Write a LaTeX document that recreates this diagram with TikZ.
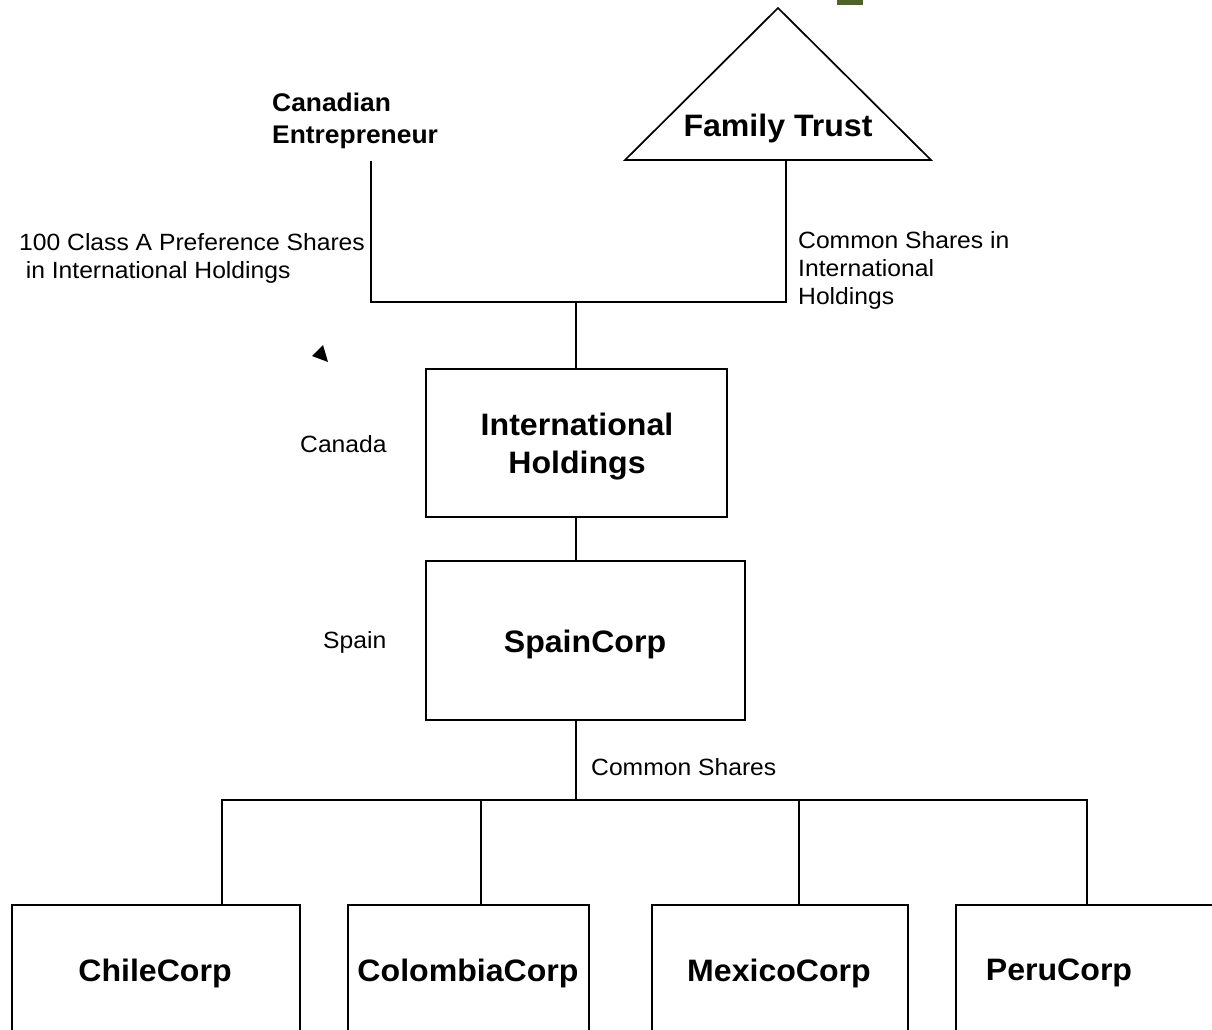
\documentclass[tikz,border=0pt]{standalone}
\usepackage{fontspec}
\setmainfont[FakeStretch=1.035]{Liberation Sans}
\newfontfamily\lblfont[FakeStretch=1.05]{Liberation Sans}
\begin{document}
\begin{tikzpicture}[x=1pt,y=-1pt,
  line/.style={line width=1.7pt, line cap=rect},
  box/.style={draw, line width=1.7pt, inner sep=0pt, font=\fontsize{31}{38}\selectfont\bfseries, align=center},
  lbl/.style={inner sep=0pt, anchor=west, align=left, font=\lblfont\fontsize{23.5}{28}\selectfont},
  ]
\useasboundingbox (0,0) rectangle (1212,1030);
\clip (0,0) rectangle (1212,1030);
\fill[white] (0,0) rectangle (1212,1030);
% green mark
\fill[fill={rgb,255:red,79;green,98;blue,40}] (837,0) rectangle (863,5);
% family trust triangle
\draw[line width=1.7pt, line join=miter] (778,8) -- (931,160) -- (625,160) -- cycle;
\node[inner sep=0pt, font=\fontsize{31}{38}\selectfont\bfseries] (ft) at (778,128) {Family Trust};
% canadian entrepreneur
\node[inner sep=0pt, anchor=west, align=left, font=\fontsize{25.5}{32}\selectfont\bfseries] (ce) at (272,121) {Canadian\\Entrepreneur};
% labels
\node[lbl] (l1) at (19,258) {100 Class A Preference Shares\\\hspace*{0.28em}in International Holdings};
\node[lbl] (l2) at (798,270) {Common Shares in\\International\\Holdings};
\node[lbl] (l3) at (300,444) {Canada};
\node[lbl] (l4) at (323,642) {Spain};
\node[lbl] (l5) at (591,767) {Common Shares};
% small triangle
\fill (312,356) -- (323,345) -- (328,362) -- cycle;
% boxes
\node[box, minimum width=301pt, minimum height=148pt] (ih) at (576.5,443) {};
\node[box, draw=none] (iht) at (577,447) {International\\Holdings};
\node[box, minimum width=319pt, minimum height=159pt] (sc) at (585.5,640.5) {};
\node[box, draw=none] (sct) at (585,644) {SpainCorp};
\node[box, minimum width=288pt, minimum height=150pt] (cl) at (156,980) {};
\node[box, minimum width=241pt, minimum height=150pt] (co) at (468.5,980) {};
\node[box, minimum width=256pt, minimum height=150pt] (mx) at (780,980) {};
\node[box, minimum width=280pt, minimum height=150pt] (pe) at (1096,980) {};
\node[box, draw=none] (clt) at (155,973) {ChileCorp};
\node[box, draw=none] (cot) at (468,973) {ColombiaCorp};
\node[box, draw=none] (mxt) at (779,973) {MexicoCorp};
\node[box, draw=none] (pet) at (1059,973) {PeruCorp};
% top connectors
\coordinate (ceb) at (371,162);
\coordinate (ftb) at (786,161);
\coordinate (jl) at (371,302);
\coordinate (jr) at (786,302);
\coordinate (jm) at (576,302);
\draw[line] (ceb) -- (jl) -- (jr) -- (ftb);
\draw[line] (jm) -- (ih.north -| jm);
\draw[line] (ih.south -| jm) -- (sc.north -| jm);
% bottom tree
\coordinate (bt) at (576,800);
\coordinate (b1) at (222,800);
\coordinate (b4) at (1087,800);
\draw[line] (sc.south -| bt) -- (bt);
\draw[line] (b1) -- (b4);
\draw[line] (b1) -- (cl.north -| b1);
\draw[line] (481,800) coordinate (b2) -- (co.north -| b2);
\draw[line] (799,800) coordinate (b3) -- (mx.north -| b3);
\draw[line] (b4) -- (pe.north -| b4);
\end{tikzpicture}
\end{document}
